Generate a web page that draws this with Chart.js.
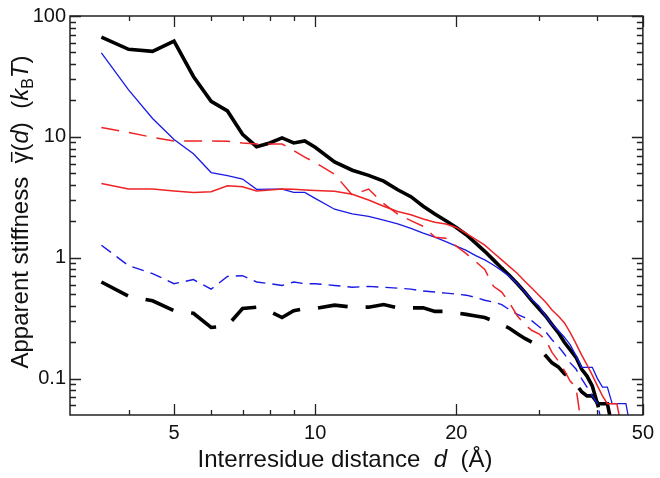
<!DOCTYPE html>
<html>
<head>
<meta charset="utf-8">
<script src="https://cdn.jsdelivr.net/npm/chart.js@4.4.1/dist/chart.umd.min.js"></script>
<style>
  html, body { margin: 0; padding: 0; background: #fff; }
  #wrap { width: 660px; height: 478px; position: relative; }
</style>
</head>
<body>
<div id="wrap"><canvas id="c" width="660" height="478"></canvas></div>
<script>
// ---- data ----
const D = [3.5,4,4.5,5,5.5,6,6.5,7,7.5,8,8.5,9,9.5,10,
  11,12,13,14,15,16,17,18,19,20,21,22,23,24,25,26,27,28,29,30,
  31,32,33,34,35,36,37,38,39,40,41,42,43,44,45,46,47];

const blackSolid = [67,53,51,62,31.6,19.7,16.4,10.5,8.3,8.9,9.8,8.9,9.25,8.2,
  6.2,5.3,4.8,4.3,3.65,3.2,2.67,2.3,2.02,1.78,1.55,1.32,1.13,0.96,0.82,0.71,0.61,0.52,0.44,0.38,
  0.33,0.28,0.24,0.20,0.173,0.150,0.12,0.105,0.087,0.062,0.062,0.062,0.04];

const blackDashed = [0.63,0.48,0.44,0.365,0.347,0.265,0.274,0.38,0.39,0.36,0.32,0.365,0.38,0.38,
  0.405,0.39,0.39,0.41,0.385,0.385,0.385,0.36,0.36,0.35,0.34,0.33,0.32,0.30,0.28,0.26,0.235,0.215,0.20,0.176,
  0.155,0.135,0.125,0.11,0.10,0.09,0.078,0.072,0.072,0.063,0.04];

const blueSolid = [49.6,24.5,14.2,9.5,7.25,5.07,4.77,4.48,3.68,3.7,3.7,3.47,3.47,3.1,
  2.52,2.31,2.2,2.05,1.91,1.75,1.6,1.48,1.36,1.25,1.15,1.04,0.96,0.87,0.78,0.70,0.61,0.52,0.45,0.40,
  0.33,0.28,0.25,0.22,0.19,0.155,0.124,0.124,0.124,0.10,0.085,0.085,0.062,0.062,0.062,0.062,0.04];

const blueDashed = [1.27,0.86,0.74,0.61,0.66,0.55,0.70,0.71,0.63,0.61,0.59,0.63,0.61,0.61,
  0.59,0.57,0.58,0.57,0.56,0.55,0.53,0.52,0.51,0.50,0.49,0.47,0.445,0.43,0.41,0.37,0.34,0.32,0.30,0.27,
  0.245,0.21,0.185,0.16,0.135,0.12,0.10,0.085,0.072,0.062,0.04];

const redSolid = [4.12,3.71,3.71,3.57,3.46,3.52,3.94,3.87,3.57,3.64,3.71,3.68,3.64,3.6,
  3.55,3.35,3.0,2.67,2.41,2.27,2.09,1.97,1.9,1.78,1.59,1.42,1.27,1.1,0.96,0.84,0.74,0.64,0.56,0.49,
  0.43,0.37,0.33,0.29,0.24,0.195,0.157,0.13,0.107,0.087,0.072,0.062,0.062,0.062,0.04];

const redDashed = [11.96,10.9,9.9,9.25,9.25,9.25,9.2,8.9,8.73,8.73,8.73,7.7,6.8,6.15,
  4.9,3.3,3.7,2.8,2.3,2.03,1.82,1.48,1.45,1.25,1.08,0.93,0.8,0.58,0.52,0.42,0.33,0.28,0.25,0.235,
  0.21,0.165,0.14,0.117,0.095,0.085,0.04];

// ---- ticks ----
const X_TICKS = [5,10,20,50];
const X_TICK_LABELS = ['5','10','20','50'];
const X_MINOR = [4,6,7,8,9,30,40];
const Y_TICKS = [0.1,1,10,100];
const Y_TICK_LABELS = ['0.1','1','10','100'];
const Y_MINOR = [0.06,0.07,0.08,0.09,0.2,0.3,0.4,0.5,0.6,0.7,0.8,0.9,2,3,4,5,6,7,8,9,20,30,40,50,60,70,80,90];

const FONT = "'Liberation Sans', Arial, sans-serif";

function pts(vals) { return vals.map((v, i) => ({x: D[i], y: v})); }

function ds(vals, color, width, dash) {
  return {
    data: pts(vals), borderColor: color, borderWidth: width, borderDash: dash || [],
    pointRadius: 0, fill: false, tension: 0, clip: 0, borderCapStyle: 'butt', borderJoinStyle: 'miter'
  };
}

const RED = 'rgb(238,35,38)';
const BLUE = 'rgb(25,25,230)';

const framePlugin = {
  id: 'framePlugin',
  afterDraw(chart) {
    const ctx = chart.ctx;
    const {left, right, top, bottom} = chart.chartArea;
    const xs = chart.scales.x, ys = chart.scales.y;
    ctx.save();
    ctx.strokeStyle = '#222';
    ctx.lineWidth = 1.5;
    ctx.strokeRect(left, top, right - left, bottom - top);
    ctx.lineWidth = 1.3;
    ctx.beginPath();
    const xt = (v, len) => { const p = Math.round(xs.getPixelForValue(v)) + 0.5;
      ctx.moveTo(p, bottom); ctx.lineTo(p, bottom - len);
      ctx.moveTo(p, top); ctx.lineTo(p, top + len); };
    const yt = (v, len) => { const p = Math.round(ys.getPixelForValue(v)) + 0.5;
      ctx.moveTo(left, p); ctx.lineTo(left + len, p);
      ctx.moveTo(right, p); ctx.lineTo(right - len, p); };
    X_TICKS.forEach(v => xt(v, 11));
    X_MINOR.forEach(v => xt(v, 5));
    Y_TICKS.forEach(v => yt(v, 11));
    Y_MINOR.forEach(v => yt(v, 6));
    ctx.stroke();

    // axis titles
    ctx.fillStyle = '#111';
    ctx.textBaseline = 'alphabetic';
    ctx.textAlign = 'left';
    const fs = 24;
    const drawSegs = (segs, cx, baseY) => {
      let total = 0;
      segs.forEach(s => { ctx.font = s.font; s.w = ctx.measureText(s.t).width; total += s.w; });
      let x = cx - total / 2;
      segs.forEach(s => {
        ctx.font = s.font;
        ctx.fillText(s.t, x, baseY + (s.dy || 0));
        if (s.bar) {
          ctx.save(); ctx.lineWidth = 1.5; ctx.strokeStyle = '#111';
          ctx.beginPath(); ctx.moveTo(x + 1.5, baseY - fs * 0.68); ctx.lineTo(x + s.w - 0.5, baseY - fs * 0.68); ctx.stroke();
          ctx.restore();
        }
        x += s.w;
      });
    };
    const N = fs + 'px ' + FONT, I = 'italic ' + fs + 'px ' + FONT, S = '16px ' + FONT;
    drawSegs([
      {t: 'Interresidue distance  ', font: N},
      {t: 'd', font: I},
      {t: '  (Å)', font: N}
    ], 345, 467);

    ctx.save();
    ctx.translate(28, 212);
    ctx.rotate(-Math.PI / 2);
    drawSegs([
      {t: 'Apparent stiffness  ', font: N},
      {t: 'γ', font: N, bar: true},
      {t: '(', font: N},
      {t: 'd', font: I},
      {t: ')  (', font: N},
      {t: 'k', font: I},
      {t: 'B', font: S, dy: 5},
      {t: 'T', font: I},
      {t: ')', font: N}
    ], 0, 0);
    ctx.restore();
    ctx.restore();
  }
};

new Chart(document.getElementById('c'), {
  type: 'line',
  data: {
    datasets: [
      ds(redDashed, RED, 1.5, [18, 10]),
      ds(redSolid, RED, 1.5),
      ds(blueDashed, BLUE, 1.4, [12, 7]),
      ds(blueSolid, BLUE, 1.3),
      ds(blackDashed, '#000', 3.6, [30, 18]),
      ds(blackSolid, '#000', 3.6)
    ]
  },
  options: {
    responsive: false,
    animation: false,
    devicePixelRatio: 1,
    layout: { padding: { left: 0, top: 12, right: 13, bottom: 0 } },
    plugins: { legend: { display: false }, tooltip: { enabled: false } },
    scales: {
      x: {
        type: 'logarithmic', min: 3, max: 50, position: 'bottom',
        afterBuildTicks: (a) => { a.ticks = X_TICKS.map(v => ({value: v})); },
        afterFit: (s) => { s.height = 63; },
        grid: { display: false, drawTicks: false },
        border: { display: false },
        ticks: {
          autoSkip: false, maxRotation: 0, padding: 6, color: '#111',
          font: { family: FONT, size: 20 },
          callback: (v) => { const i = X_TICKS.indexOf(v); return i >= 0 ? X_TICK_LABELS[i] : ''; }
        }
      },
      y: {
        type: 'logarithmic', min: 0.05, max: 100, position: 'left',
        afterBuildTicks: (a) => { a.ticks = Y_TICKS.map(v => ({value: v})); },
        afterFit: (s) => { s.width = 70; },
        grid: { display: false, drawTicks: false },
        border: { display: false },
        ticks: {
          autoSkip: false, padding: 4, color: '#111',
          font: { family: FONT, size: 20 },
          callback: (v) => { const i = Y_TICKS.indexOf(v); return i >= 0 ? Y_TICK_LABELS[i] : ''; }
        }
      }
    }
  },
  plugins: [framePlugin]
});
</script>
</body>
</html>
